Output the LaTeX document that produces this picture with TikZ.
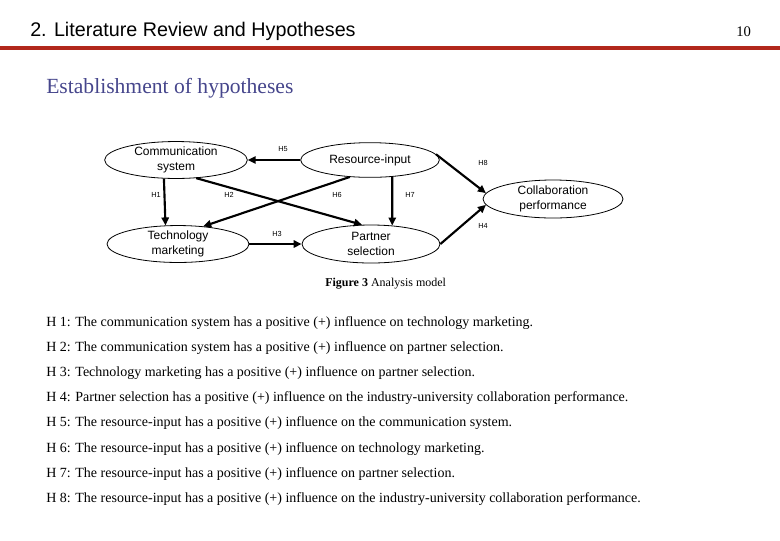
\documentclass[tikz,border=0pt]{standalone}
\usepackage{fontspec}
\setmainfont{Liberation Serif}
\setsansfont{Liberation Sans}
\usepackage{tikz}
\usetikzlibrary{shapes.geometric,arrows.meta}
\definecolor{rulered}{RGB}{178,40,28}
\definecolor{headblue}{RGB}{70,70,140}

\begin{document}
\begin{tikzpicture}[x=0.75pt,y=-0.75pt,
  main/.style = {draw, ellipse, line width=0.6pt, inner sep=0pt, minimum width=105pt, minimum height=26pt, align=center, font=\sffamily\fontsize{9}{11.2}\selectfont},
  arr/.style = {line width=1.6pt, -{Triangle[length=6pt,width=5.5pt]}},
  lbl/.style = {inner sep=0pt, font=\sffamily\fontsize{5.5}{6}\selectfont},
  hyp/.style = {anchor=base west, inner sep=0pt, font=\fontsize{10.5}{12}\selectfont}]
\useasboundingbox (0,0) rectangle (780,540);
% header
\node[anchor=base west, inner sep=0pt, font=\sffamily\fontsize{14.8}{16}\selectfont] (title) at (30,36) {2. Literature Review and Hypotheses};
\node[anchor=base west, inner sep=0pt, font=\fontsize{11}{12}\selectfont] (page) at (736,36) {10};
\fill[rulered] (0,46) rectangle (780,50);
\node[anchor=base west, inner sep=0pt, text=headblue, font=\fontsize{16.2}{18}\selectfont] (sub) at (46,93) {Establishment of hypotheses};
% model
\node[main, minimum width=107pt, minimum height=26pt] (cs) at (176,160) {Communication\\system};
\node[main, minimum width=104pt] (ri) at (370,160) {Resource-input};
\node[main, minimum width=106.5pt, minimum height=27pt] (tm) at (178,244) {Technology\\marketing};
\node[main, minimum width=103.5pt, minimum height=28.5pt] (ps) at (371,244) {Partner\\selection};
\node[main, minimum height=28.5pt] (cp) at (553,199) {Collaboration\\performance};
\draw[arr] (ri.west) -- (cs.east);
\draw[arr] (cs.237) -- (tm.124);
\draw[arr] (cs.-42) -- (ps.115);
\draw[arr] (ri.220) -- (tm.35);
\draw[arr] (tm.east) -- (ps.west);
\draw[arr] (ri.-37) -- (ps.41);
\draw[arr] (ri.5) -- (cp.175);
\draw[arr] (ps.east) -- (cp.185);
\node[lbl] (l5) at (283,149) {H5};
\node[lbl] (l1) at (156,195) {H1};
\node[lbl] (l2) at (229,195) {H2};
\node[lbl] (l6) at (337,195) {H6};
\node[lbl] (l3) at (277,234) {H3};
\node[lbl] (l7) at (410,195) {H7};
\node[lbl] (l8) at (483,163) {H8};
\node[lbl] (l4) at (483,226) {H4};
\node[anchor=base west, inner sep=0pt, font=\fontsize{9}{10}\selectfont] (cap) at (325,286) {\textbf{Figure 3} Analysis model};
% hypotheses
\node[hyp] (t1) at (46,326) {H 1: The communication system has a positive (+) influence on technology marketing.};
\node[hyp] (t2) at (46,351) {H 2: The communication system has a positive (+) influence on partner selection.};
\node[hyp] (t3) at (46,376) {H 3: Technology marketing has a positive (+) influence on partner selection.};
\node[hyp] (t4) at (46,401) {H 4: Partner selection has a positive (+) influence on the industry-university collaboration performance.};
\node[hyp] (t5) at (46,426) {H 5: The resource-input has a positive (+) influence on the communication system.};
\node[hyp] (t6) at (46,452) {H 6: The resource-input has a positive (+) influence on technology marketing.};
\node[hyp] (t7) at (46,477) {H 7: The resource-input has a positive (+) influence on partner selection.};
\node[hyp] (t8) at (46,502) {H 8: The resource-input has a positive (+) influence on the industry-university collaboration performance.};
\end{tikzpicture}
\end{document}
